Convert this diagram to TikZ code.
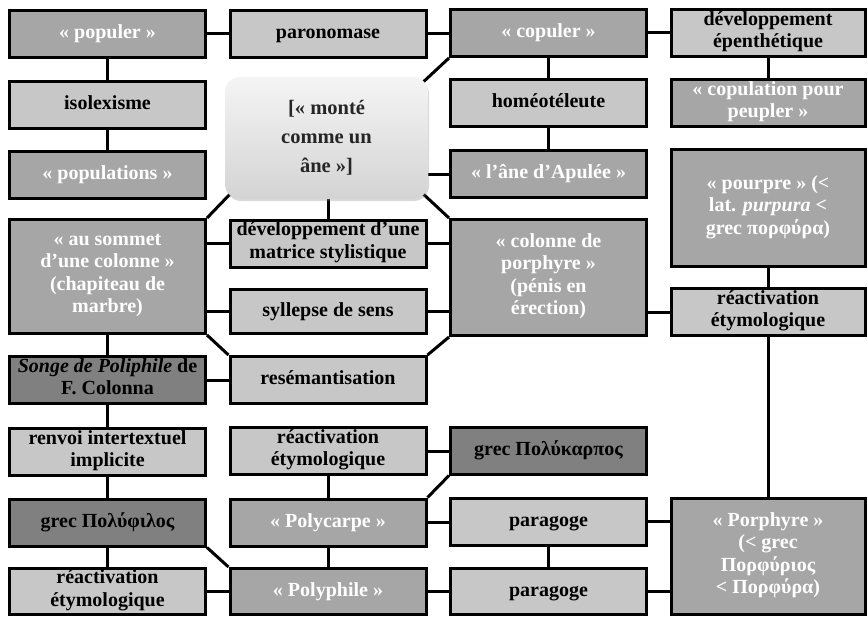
\documentclass[tikz,border=0pt]{standalone}
\usepackage{fontspec}
\setmainfont{Liberation Serif}
\usetikzlibrary{calc, backgrounds, shadows}

\begin{document}
\begin{tikzpicture}[x=1pt, y=1pt,
    box/.style={draw, line width=3pt, minimum width=196pt, minimum height=47pt,
      inner sep=0pt, align=center, font=\fontsize{20}{22.5}\selectfont\bfseries,
      execute at begin node=\strut, execute at end node=\strut},
    lite/.style={box, fill=black!22},
    mid/.style={box, fill=black!35, text=white},
    dark/.style={box, fill=black!50},
    link/.style={line width=3pt},
  ]
  \useasboundingbox (0,0) rectangle (868,-618);

  % column 1
  \node[mid] (populer) at (107.5,-34) {« populer »};
  \node[lite] (isolex) at (107.5,-105) {isolexisme};
  \node[mid] (popul) at (107.5,-175) {« populations »};
  \node[mid, minimum height=114pt] (sommet) at (107.5,-276.5)
    {« au sommet\\d’une colonne »\\(chapiteau de\\marbre)};
  \node[dark] (songe) at (107.5,-380) {\textit{Songe de Poliphile} de\\F. Colonna};
  \node[lite] (renvoi) at (107.5,-452) {renvoi intertextuel\\implicite};
  \node[dark] (polyphilos) at (107.5,-522.5) {grec Πολύφιλος};
  \node[lite, minimum height=46pt] (reac1) at (107.5,-591.5) {réactivation\\étymologique};

  % column 2
  \node[lite] (paron) at (328,-34) {paronomase};
  \node[rounded corners=15pt, minimum width=203pt, minimum height=122pt,
    top color=black!4, bottom color=black!17, text=black!85, align=center,
    font=\fontsize{20.5}{29}\selectfont\bfseries,
    drop shadow={opacity=0.3, shadow xshift=1pt, shadow yshift=-2pt}]
    (centre) at (326.5,-138) {[« monté\\comme un\\âne »]};
  \node[lite] (devmat) at (328,-243.5) {développement d’une\\matrice stylistique};
  \node[lite, minimum height=44pt] (syllepse) at (328,-311.5) {syllepse de sens};
  \node[lite] (resem) at (328,-380) {resémantisation};
  \node[lite] (reac2) at (328,-451) {réactivation\\étymologique};
  \node[mid] (polycarpe) at (328,-522.5) {« Polycarpe »};
  \node[mid, minimum height=46pt] (polyphile) at (328,-591.5) {« Polyphile »};

  % column 3
  \node[mid] (copuler) at (548.5,-33) {« copuler »};
  \node[lite] (homeo) at (548.5,-103) {homéotéleute};
  \node[mid] (ane) at (548.5,-174) {« l’âne d’Apulée »};
  \node[mid, minimum height=116pt] (colonne) at (548.5,-277.5)
    {« colonne de\\porphyre »\\(pénis en\\érection)};
  \node[dark] (polyk) at (548.5,-450.5) {grec Πολύκαρπος};
  \node[lite] (parag1) at (548.5,-521.5) {paragoge};
  \node[lite, minimum height=46pt] (parag2) at (548.5,-591.5) {paragoge};

  % column 4
  \node[lite, minimum width=194pt] (devep) at (768,-33) {développement\\épenthétique};
  \node[mid, minimum width=194pt] (copulation) at (768,-103) {« copulation pour\\peupler »};
  \node[mid, minimum width=194pt, minimum height=117pt] (pourpre) at (768,-208)
    {« pourpre » (<\\lat. \textit{purpura} <\\grec πορφύρα)};
  \node[lite, minimum width=194pt] (reac4) at (768,-312) {réactivation\\étymologique};
  \node[mid, minimum width=194pt, minimum height=116pt] (porphyre) at (768,-556.5)
    {« Porphyre »\\(< grec\\Πορφύριος\\< Πορφύρα)};

  % Draw links
  \begin{scope}[on background layer]
    \foreach \a/\b in {populer/isolex, isolex/popul, copuler/homeo, homeo/ane,
        devep/copulation, devmat/centre, sommet/songe, songe/renvoi,
        renvoi/polyphilos, polyphilos/reac1, reac2/polycarpe,
        polycarpe/polyphile, parag1/parag2, pourpre/reac4, reac4/porphyre} {
      \draw[link] (\a) -- (\a |- \b);
    }
    \foreach \a/\b in {populer/paron, paron/copuler, copuler/devep, ane/centre,
        devmat/sommet, devmat/colonne, syllepse/sommet, syllepse/colonne,
        reac4/colonne, songe/resem, reac2/polyk, polycarpe/parag1,
        parag1/porphyre, reac1/polyphile, polyphile/parag2, parag2/porphyre} {
      \draw[link] (\a) -- (\a -| \b);
    }
    \draw[link] (copuler.south west) -- ($(centre.north east)+(-8,-8)$);
    \draw[link] (sommet.north east) -- ($(centre.south west)+(8,8)$);
    \draw[link] (colonne.north west) -- ($(centre.south east)+(-8,8)$);
    \draw[link] (sommet.south east) -- (resem.north west);
    \draw[link] (colonne.south west) -- (resem.north east);
    \draw[link] (polyk.south west) -- (polycarpe.north east);
    \draw[link] (polyphilos.south east) -- (polyphile.north west);
  \end{scope}
\end{tikzpicture}
\end{document}
